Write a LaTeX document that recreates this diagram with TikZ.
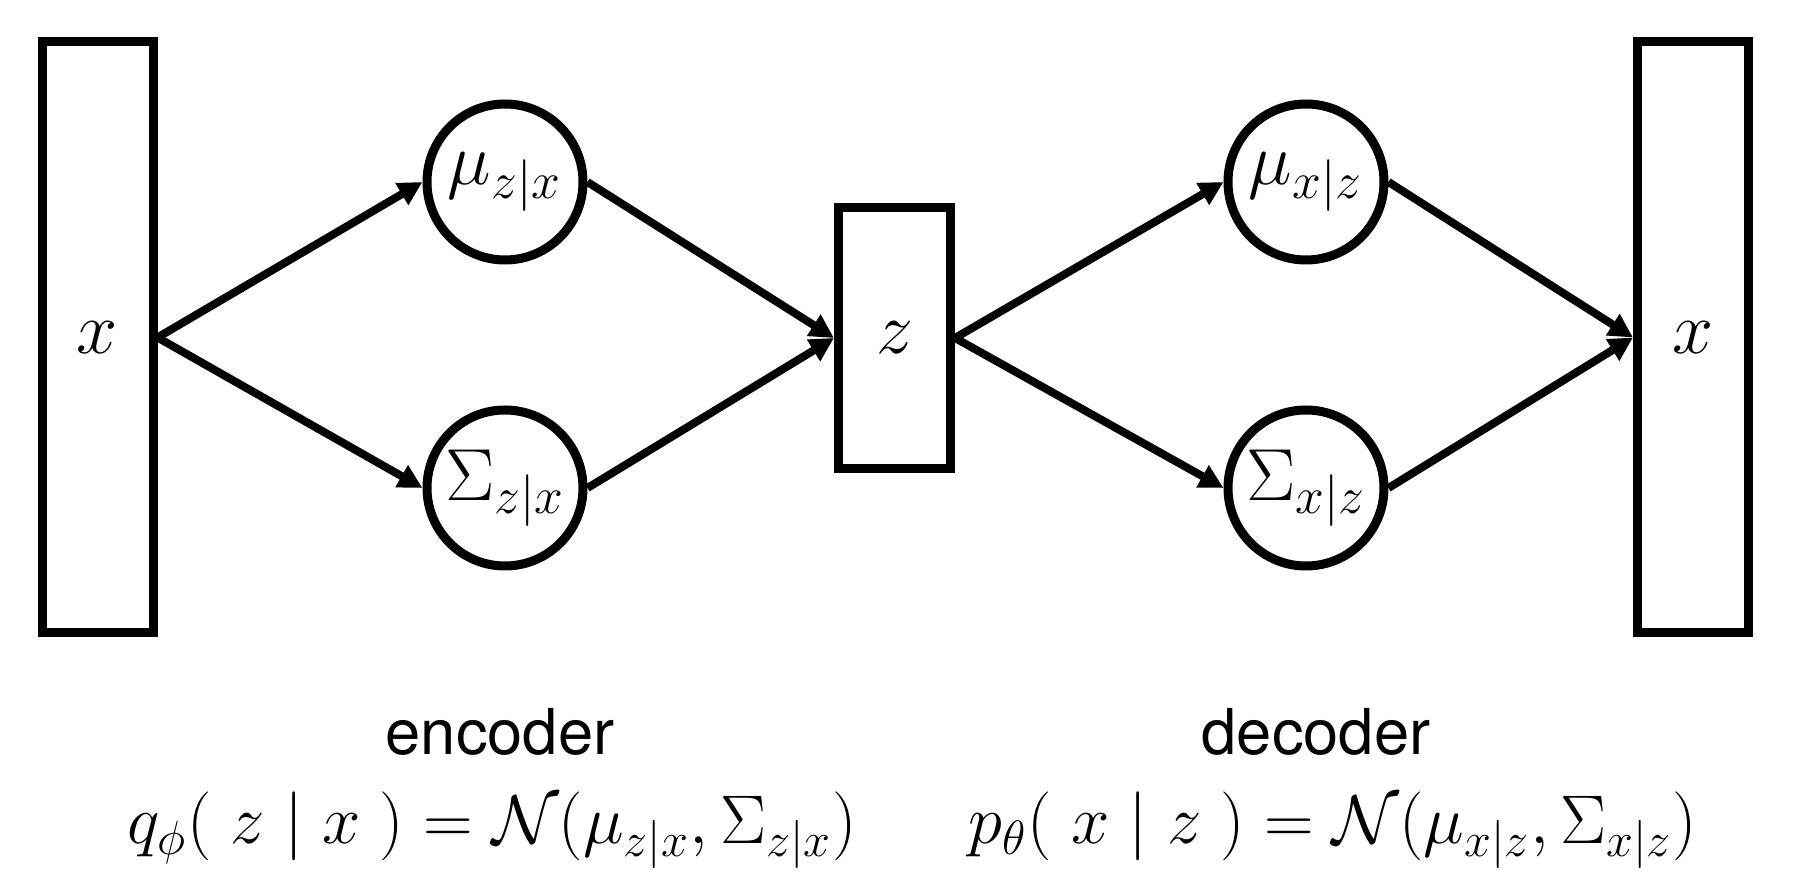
\RequirePackage{fix-cm}
\documentclass[tikz,border=0pt]{standalone}
\usepackage{fontspec}
\newfontfamily\labelfont{TeX Gyre Heros}
\usetikzlibrary{arrows.meta}
\tikzset{
	layer/.style={draw, line width=0.9mm, minimum width=1.11cm, inner sep=0pt},
	gauss/.style={draw, circle, line width=0.9mm, minimum size=1.56cm, inner sep=0pt},
	link/.style={line width=0.8mm, -{Triangle[length=2.4mm, width=2.4mm]}},
	caption/.style={anchor=base, font=\labelfont\fontsize{18}{20}\selectfont},
	formula/.style={anchor=base, font=\fontsize{19.6}{22}\selectfont}
}

\begin{document}
\begin{tikzpicture}[font=\fontsize{21}{24}\selectfont]
		%%%%% START %%%%%
		\useasboundingbox (0, 0) rectangle (17.94, -8.78);
		
		% encoder
		\node[layer, minimum height=5.91cm] (xin) at (0.975, -3.375) {$x$};
		\node[gauss] (muenc) at (5.05, -1.82) {$\mu_{z|x}$};
		\node[gauss] (sigenc) at (5.05, -4.88) {$\Sigma_{z|x}$};
		
		% latent
		\node[layer, minimum width=1.12cm, minimum height=2.61cm] (zlat) at (8.945, -3.38) {$z$};
		
		% decoder
		\node[gauss] (mudec) at (13.06, -1.82) {$\mu_{x|z}$};
		\node[gauss] (sigdec) at (13.06, -4.88) {$\Sigma_{x|z}$};
		\node[layer, minimum height=5.91cm] (xout) at (16.93, -3.375) {$x$};
		
		\draw[link] (xin.east) -- (muenc.west);
		\draw[link] (xin.east) -- (sigenc.west);
		\draw[link] (muenc.east) -- (zlat.west);
		\draw[link] (sigenc.east) -- (zlat.west);
		
		\draw[link] (zlat.east) -- (mudec.west);
		\draw[link] (zlat.east) -- (sigdec.west);
		\draw[link] (mudec.east) -- (xout.west);
		\draw[link] (sigdec.east) -- (xout.west);
		
		\node[caption] (enctext) at (5.0, -7.55) {encoder};
		\node[formula] (encform) at (4.92, -8.44) {$q_\phi(\;z \mid x\;) = \mathcal{N}(\mu_{z|x},\Sigma_{z|x})$};
		
		\node[caption] (dectext) at (13.16, -7.55) {decoder};
		\node[formula] (decform) at (13.33, -8.44) {$p_\theta(\;x \mid z\;) = \mathcal{N}(\mu_{x|z},\Sigma_{x|z})$};
		%%%%% END %%%%%
\end{tikzpicture}
\end{document}
